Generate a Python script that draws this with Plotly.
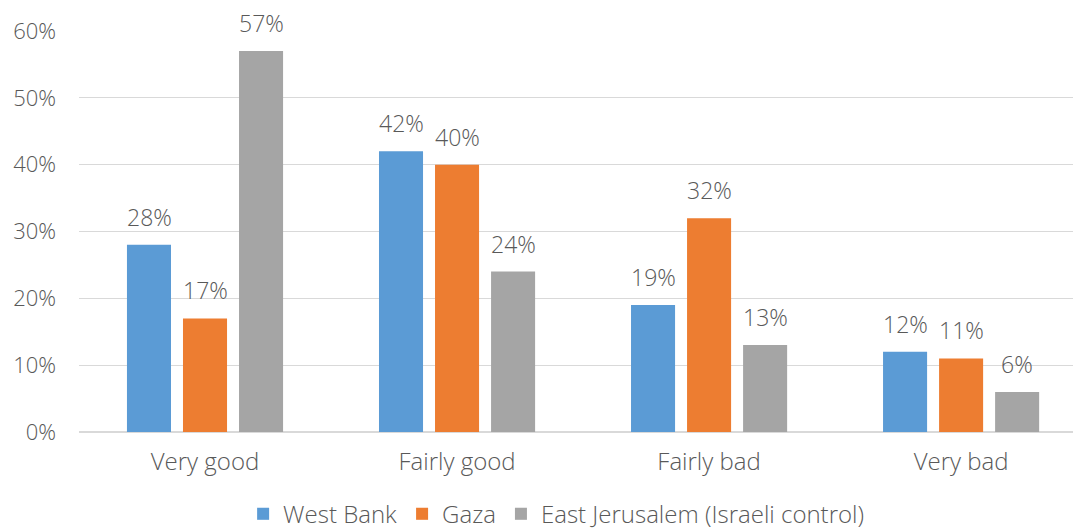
import plotly.graph_objects as go

categories = ["Very good", "Fairly good", "Fairly bad", "Very bad"]
west_bank = [28, 42, 19, 12]
gaza = [17, 40, 32, 11]
east_jerusalem = [57, 24, 13, 6]
series_names = ["West Bank", "Gaza", "East Jerusalem (Israeli control)"]
y_ticks = [0, 10, 20, 30, 40, 50, 60]

colors = ["#5B9BD5", "#ED7D31", "#A5A5A5"]
font_family = "'Open Sans', 'Noto Sans', sans-serif"
text_color = "#595959"

fig = go.Figure()
all_series = [west_bank, gaza, east_jerusalem]
for name, vals, col in zip(series_names, all_series, colors):
    fig.add_trace(go.Bar(
        x=categories, y=vals, name=name,
        marker=dict(color=col, line=dict(width=0)),
        cliponaxis=False,
    ))

# value labels above each bar (bar slot within a group is 56 px wide)
annotations = []
for i, vals in enumerate(all_series):
    for cat, v in zip(categories, vals):
        annotations.append(dict(
            x=cat, y=v, xref="x", yref="y", text=f"{v}%",
            showarrow=False, xanchor="center", yanchor="bottom",
            xshift=(i - 1) * 56, yshift=10,
            font=dict(size=23, color=text_color, family=font_family, weight=300),
        ))

fig.update_layout(
    width=1073, height=529,
    margin=dict(l=79, r=0, t=31, b=97, autoexpand=False),
    paper_bgcolor="white", plot_bgcolor="white",
    barmode="group", bargap=0.333, bargroupgap=0.214,
    font=dict(family=font_family, color=text_color, size=20, weight=300),
    showlegend=True,
    legend=dict(orientation="h", x=0.48, xanchor="center", y=-0.205, yanchor="middle",
                font=dict(size=24, color=text_color, weight=300), itemwidth=30,
                traceorder="normal"),
    annotations=annotations,
)
fig.update_xaxes(range=[-0.5, 3.444], showgrid=False, showline=False, ticks="",
                 automargin=False,
                 tickfont=dict(size=24, color=text_color, weight=300), ticklabelstandoff=13)
fig.update_yaxes(range=[0, 60], tickvals=y_ticks, ticktext=[f"{t}%" for t in y_ticks],
                 automargin=False,
                 showgrid=True, gridcolor="#D9D9D9", gridwidth=1,
                 zeroline=True, zerolinecolor="#D9D9D9", zerolinewidth=1.5,
                 showline=False, ticks="", tickfont=dict(size=22, color=text_color, weight=300),
                 ticklabelstandoff=22)

fig.write_html("out.html")
